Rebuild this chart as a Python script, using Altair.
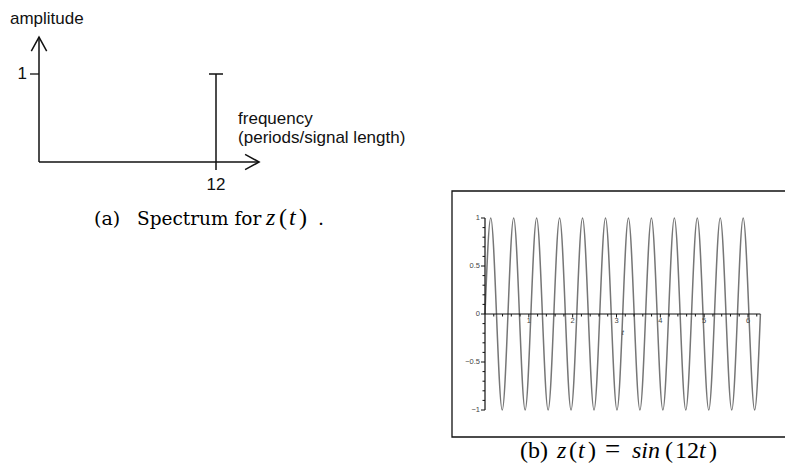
import altair as alt
import pandas as pd

# ---- (a) spectrum of z(t): a single line at 12 periods per signal length
SPEC_FREQ = [12]
SPEC_AMP = [1]

# ---- (b) time signal z(t) = sin(12 t): zero crossings and extrema over one signal length
T_VALUES = [0.000, 0.131, 0.262, 0.393, 0.524, 0.654, 0.785, 0.916, 1.047, 1.178,
            1.309, 1.440, 1.571, 1.702, 1.833, 1.963, 2.094, 2.225, 2.356, 2.487,
            2.618, 2.749, 2.880, 3.011, 3.142, 3.272, 3.403, 3.534, 3.665, 3.796,
            3.927, 4.058, 4.189, 4.320, 4.451, 4.581, 4.712, 4.843, 4.974, 5.105,
            5.236, 5.367, 5.498, 5.629, 5.760, 5.890, 6.021, 6.152, 6.283]
Z_VALUES = [0, 1, 0, -1, 0, 1, 0, -1, 0, 1, 0, -1, 0, 1, 0, -1,
            0, 1, 0, -1, 0, 1, 0, -1, 0, 1, 0, -1, 0, 1, 0, -1,
            0, 1, 0, -1, 0, 1, 0, -1, 0, 1, 0, -1, 0, 1, 0, -1, 0]

Y_MAJOR = [-1, -0.5, 0, 0.5, 1]
Y_MAJOR_LABELS = ["\u22121", "\u22120.5", "0", "0.5", "1"]
Y_MINOR = [-0.9, -0.8, -0.7, -0.6, -0.4, -0.3, -0.2, -0.1,
           0.1, 0.2, 0.3, 0.4, 0.6, 0.7, 0.8, 0.9]
X_MAJOR = [1, 2, 3, 4, 5, 6]
X_MAJOR_LABELS = ["1", "2", "3", "4", "5", "6"]
X_MINOR = [0.2, 0.4, 0.6, 0.8, 1.2, 1.4, 1.6, 1.8, 2.2, 2.4, 2.6, 2.8,
           3.2, 3.4, 3.6, 3.8, 4.2, 4.4, 4.6, 4.8, 5.2, 5.4, 5.6, 5.8, 6.2]

one = pd.DataFrame({"k": [0]})
spec = pd.DataFrame({"freq": SPEC_FREQ, "amp": SPEC_AMP})
signal = pd.DataFrame({"t": T_VALUES, "z": Z_VALUES})
ymaj = pd.DataFrame({"v": Y_MAJOR, "lab": Y_MAJOR_LABELS})
ymin = pd.DataFrame({"v": Y_MINOR})
xmaj = pd.DataFrame({"v": X_MAJOR, "lab": X_MAJOR_LABELS})
xmin = pd.DataFrame({"v": X_MINOR})

SANS = "Liberation Sans"
INK = "#111111"
ARROW = "M -1 -0.55 L 0 0 L -1 0.55"

# ======================= panel (a) =======================
A_X_END = 14.92   # arrow tip of the frequency axis
A_Y_END = 1.42    # arrow tip of the amplitude axis
fx = alt.Scale(domain=[0, 12], range=[39, 216], nice=False, zero=False)
fy = alt.Scale(domain=[0, 1], range=[162, 74], nice=False, zero=False)


def fxd(v):
    return alt.XDatum(v, type="quantitative", scale=fx, axis=None)


def fyd(v):
    return alt.YDatum(v, type="quantitative", scale=fy, axis=None)


a_yaxis = alt.Chart(one).mark_rule(color=INK, strokeWidth=1.5).encode(
    x=fxd(0), y=fyd(0), y2=alt.Y2Datum(A_Y_END))
a_xaxis = alt.Chart(one).mark_rule(color=INK, strokeWidth=1.5).encode(
    x=fxd(0), x2=alt.X2Datum(A_X_END), y=fyd(0))
a_yarrow = alt.Chart(one).mark_point(
    shape=ARROW, filled=False, size=784, angle=270, stroke=INK, strokeWidth=1.5, opacity=1
).encode(x=fxd(0), y=fyd(A_Y_END))
a_xarrow = alt.Chart(one).mark_point(
    shape=ARROW, filled=False, size=784, angle=0, stroke=INK, strokeWidth=1.5, opacity=1
).encode(x=fxd(A_X_END), y=fyd(0))

fX = alt.X("freq:Q", scale=fx, axis=None)
aY = alt.Y("amp:Q", scale=fy, axis=None)

a_spike = alt.Chart(spec).mark_rule(color=INK, strokeWidth=1.5, y2Offset=8).encode(
    x=fX, y=aY, y2=alt.Y2Datum(0))
a_cap = alt.Chart(spec).mark_tick(
    orient="horizontal", size=14, thickness=1.5, color=INK, opacity=1
).encode(x=fX, y=aY)
a_ytick = alt.Chart(spec).mark_rule(color=INK, strokeWidth=1.3, xOffset=-9).encode(
    x=fxd(0), x2=alt.X2Datum(0), y=aY)
a_ylabel = alt.Chart(spec).mark_text(
    align="right", baseline="middle", dx=-12, font=SANS, fontSize=17, color=INK
).encode(x=fxd(0), y=aY, text=alt.Text("amp:Q"))
a_xlabel = alt.Chart(spec).mark_text(
    align="center", baseline="alphabetic", dy=28, font=SANS, fontSize=17, color=INK
).encode(x=fX, y=fyd(0), text=alt.Text("freq:Q"))
a_ytitle = alt.Chart(one).mark_text(
    text="amplitude", align="left", baseline="alphabetic", dx=-29, dy=-13,
    font=SANS, fontSize=17, color=INK
).encode(x=fxd(0), y=fyd(A_Y_END))
a_xtitle1 = alt.Chart(one).mark_text(
    text="frequency", align="left", baseline="alphabetic", dx=-21, dy=-38,
    font=SANS, fontSize=17, color=INK
).encode(x=fxd(A_X_END), y=fyd(0))
a_xtitle2 = alt.Chart(one).mark_text(
    text="(periods/signal length)", align="left", baseline="alphabetic", dx=-21, dy=-19,
    font=SANS, fontSize=17, color=INK
).encode(x=fxd(A_X_END), y=fyd(0))

panel_a = alt.layer(a_yaxis, a_xaxis, a_yarrow, a_xarrow, a_spike, a_cap,
                    a_ytick, a_ylabel, a_xlabel, a_ytitle, a_xtitle1, a_xtitle2)

# ======================= panel (b) =======================
tx = alt.Scale(domain=[0, 6], range=[485, 748], nice=False, zero=False)
ty = alt.Scale(domain=[-1, 1], range=[410, 218], nice=False, zero=False)
T_END = T_VALUES[-1]


def txd(v):
    return alt.XDatum(v, type="quantitative", scale=tx, axis=None)


def tyd(v):
    return alt.YDatum(v, type="quantitative", scale=ty, axis=None)


frame = alt.Chart(one).mark_rect(
    fillOpacity=0, stroke=INK, strokeWidth=1.3
).encode(x=alt.value(452), x2=alt.value(800), y=alt.value(191), y2=alt.value(437))

curve = alt.Chart(signal).mark_line(
    interpolate="natural", color="#767676", strokeWidth=1.5
).encode(x=alt.X("t:Q", scale=tx, axis=None), y=alt.Y("z:Q", scale=ty, axis=None))

b_xaxis = alt.Chart(one).mark_rule(color=INK, strokeWidth=1.2).encode(
    x=txd(0), x2=alt.X2Datum(T_END), y=tyd(0))
b_yaxis = alt.Chart(one).mark_rule(color=INK, strokeWidth=1.2).encode(
    x=txd(0), y=tyd(-1), y2=alt.Y2Datum(1))

vY = alt.Y("v:Q", scale=ty, axis=None)
vX = alt.X("v:Q", scale=tx, axis=None)

b_ymin = alt.Chart(ymin).mark_rule(color=INK, strokeWidth=1, xOffset=-2.5).encode(
    x=txd(0), x2=alt.X2Datum(0), y=vY)
b_ymaj = alt.Chart(ymaj).mark_rule(color=INK, strokeWidth=1, xOffset=-4).encode(
    x=txd(0), x2=alt.X2Datum(0), y=vY)
b_ylab = alt.Chart(ymaj).mark_text(
    align="right", baseline="middle", dx=-5, font=SANS, fontSize=7.5, color="#444444"
).encode(x=txd(0), y=vY, text="lab:N")
b_xmin = alt.Chart(xmin).mark_rule(color=INK, strokeWidth=1, y2Offset=2.5).encode(
    x=vX, y=tyd(0), y2=alt.Y2Datum(0))
b_xmaj = alt.Chart(xmaj).mark_rule(color=INK, strokeWidth=1, y2Offset=3.5).encode(
    x=vX, y=tyd(0), y2=alt.Y2Datum(0))
b_xlab = alt.Chart(xmaj).mark_text(
    align="center", baseline="alphabetic", dy=9, font=SANS, fontSize=7.5, color="#444444"
).encode(x=vX, y=tyd(0), text="lab:N")
b_xtitle = alt.Chart(one).mark_text(
    text="t", align="center", baseline="alphabetic", dy=21,
    font=SANS, fontSize=7.5, fontStyle="italic", color="#444444"
).encode(x=txd(3.1416), y=tyd(0))

panel_b = alt.layer(frame, curve, b_xaxis, b_yaxis, b_ymin, b_ymaj, b_ylab,
                    b_xmin, b_xmaj, b_xlab, b_xtitle)

# ======================= sub-captions =======================
SERIF = "DejaVu Serif"
MATH = "Liberation Serif"


def piece(text, x, y, font, size, italic=False):
    return alt.Chart(one).mark_text(
        text=text, align="left", baseline="alphabetic", font=font, fontSize=size,
        fontStyle="italic" if italic else "normal", color="black"
    ).encode(x=alt.value(x), y=alt.value(y))


CAP_A_Y = 225
CAP_B_Y = 458
captions = alt.layer(
    piece("(a)", 94, CAP_A_Y, SERIF, 19),
    piece("Spectrum for", 137, CAP_A_Y, SERIF, 18.5),
    piece("z", 266, CAP_A_Y, MATH, 24, True),
    piece("(", 279, CAP_A_Y, MATH, 24),
    piece("t", 289, CAP_A_Y, MATH, 24, True),
    piece(")", 299, CAP_A_Y, MATH, 24),
    piece(".", 318, CAP_A_Y, SERIF, 19),
    piece("(b)", 520, CAP_B_Y, MATH, 24),
    piece("z", 557, CAP_B_Y, MATH, 24, True),
    piece("(", 569, CAP_B_Y, MATH, 24),
    piece("t", 578, CAP_B_Y, MATH, 24, True),
    piece(")", 588, CAP_B_Y, MATH, 24),
    piece("=", 605, CAP_B_Y, MATH, 27),
    piece("sin", 632, CAP_B_Y, MATH, 24, True),
    piece("(", 665, CAP_B_Y, MATH, 24),
    piece("12", 675, CAP_B_Y, MATH, 24),
    piece("t", 699, CAP_B_Y, MATH, 24, True),
    piece(")", 709, CAP_B_Y, MATH, 24),
)

chart = alt.layer(panel_a, panel_b, captions).resolve_scale(
    x="independent", y="independent"
).properties(
    width=785, height=468, padding=0,
    autosize=alt.AutoSizeParams(type="none"),
    background="white",
).configure_view(stroke=None)

chart.save("out.html", embed_options={"renderer": "svg", "actions": False})
